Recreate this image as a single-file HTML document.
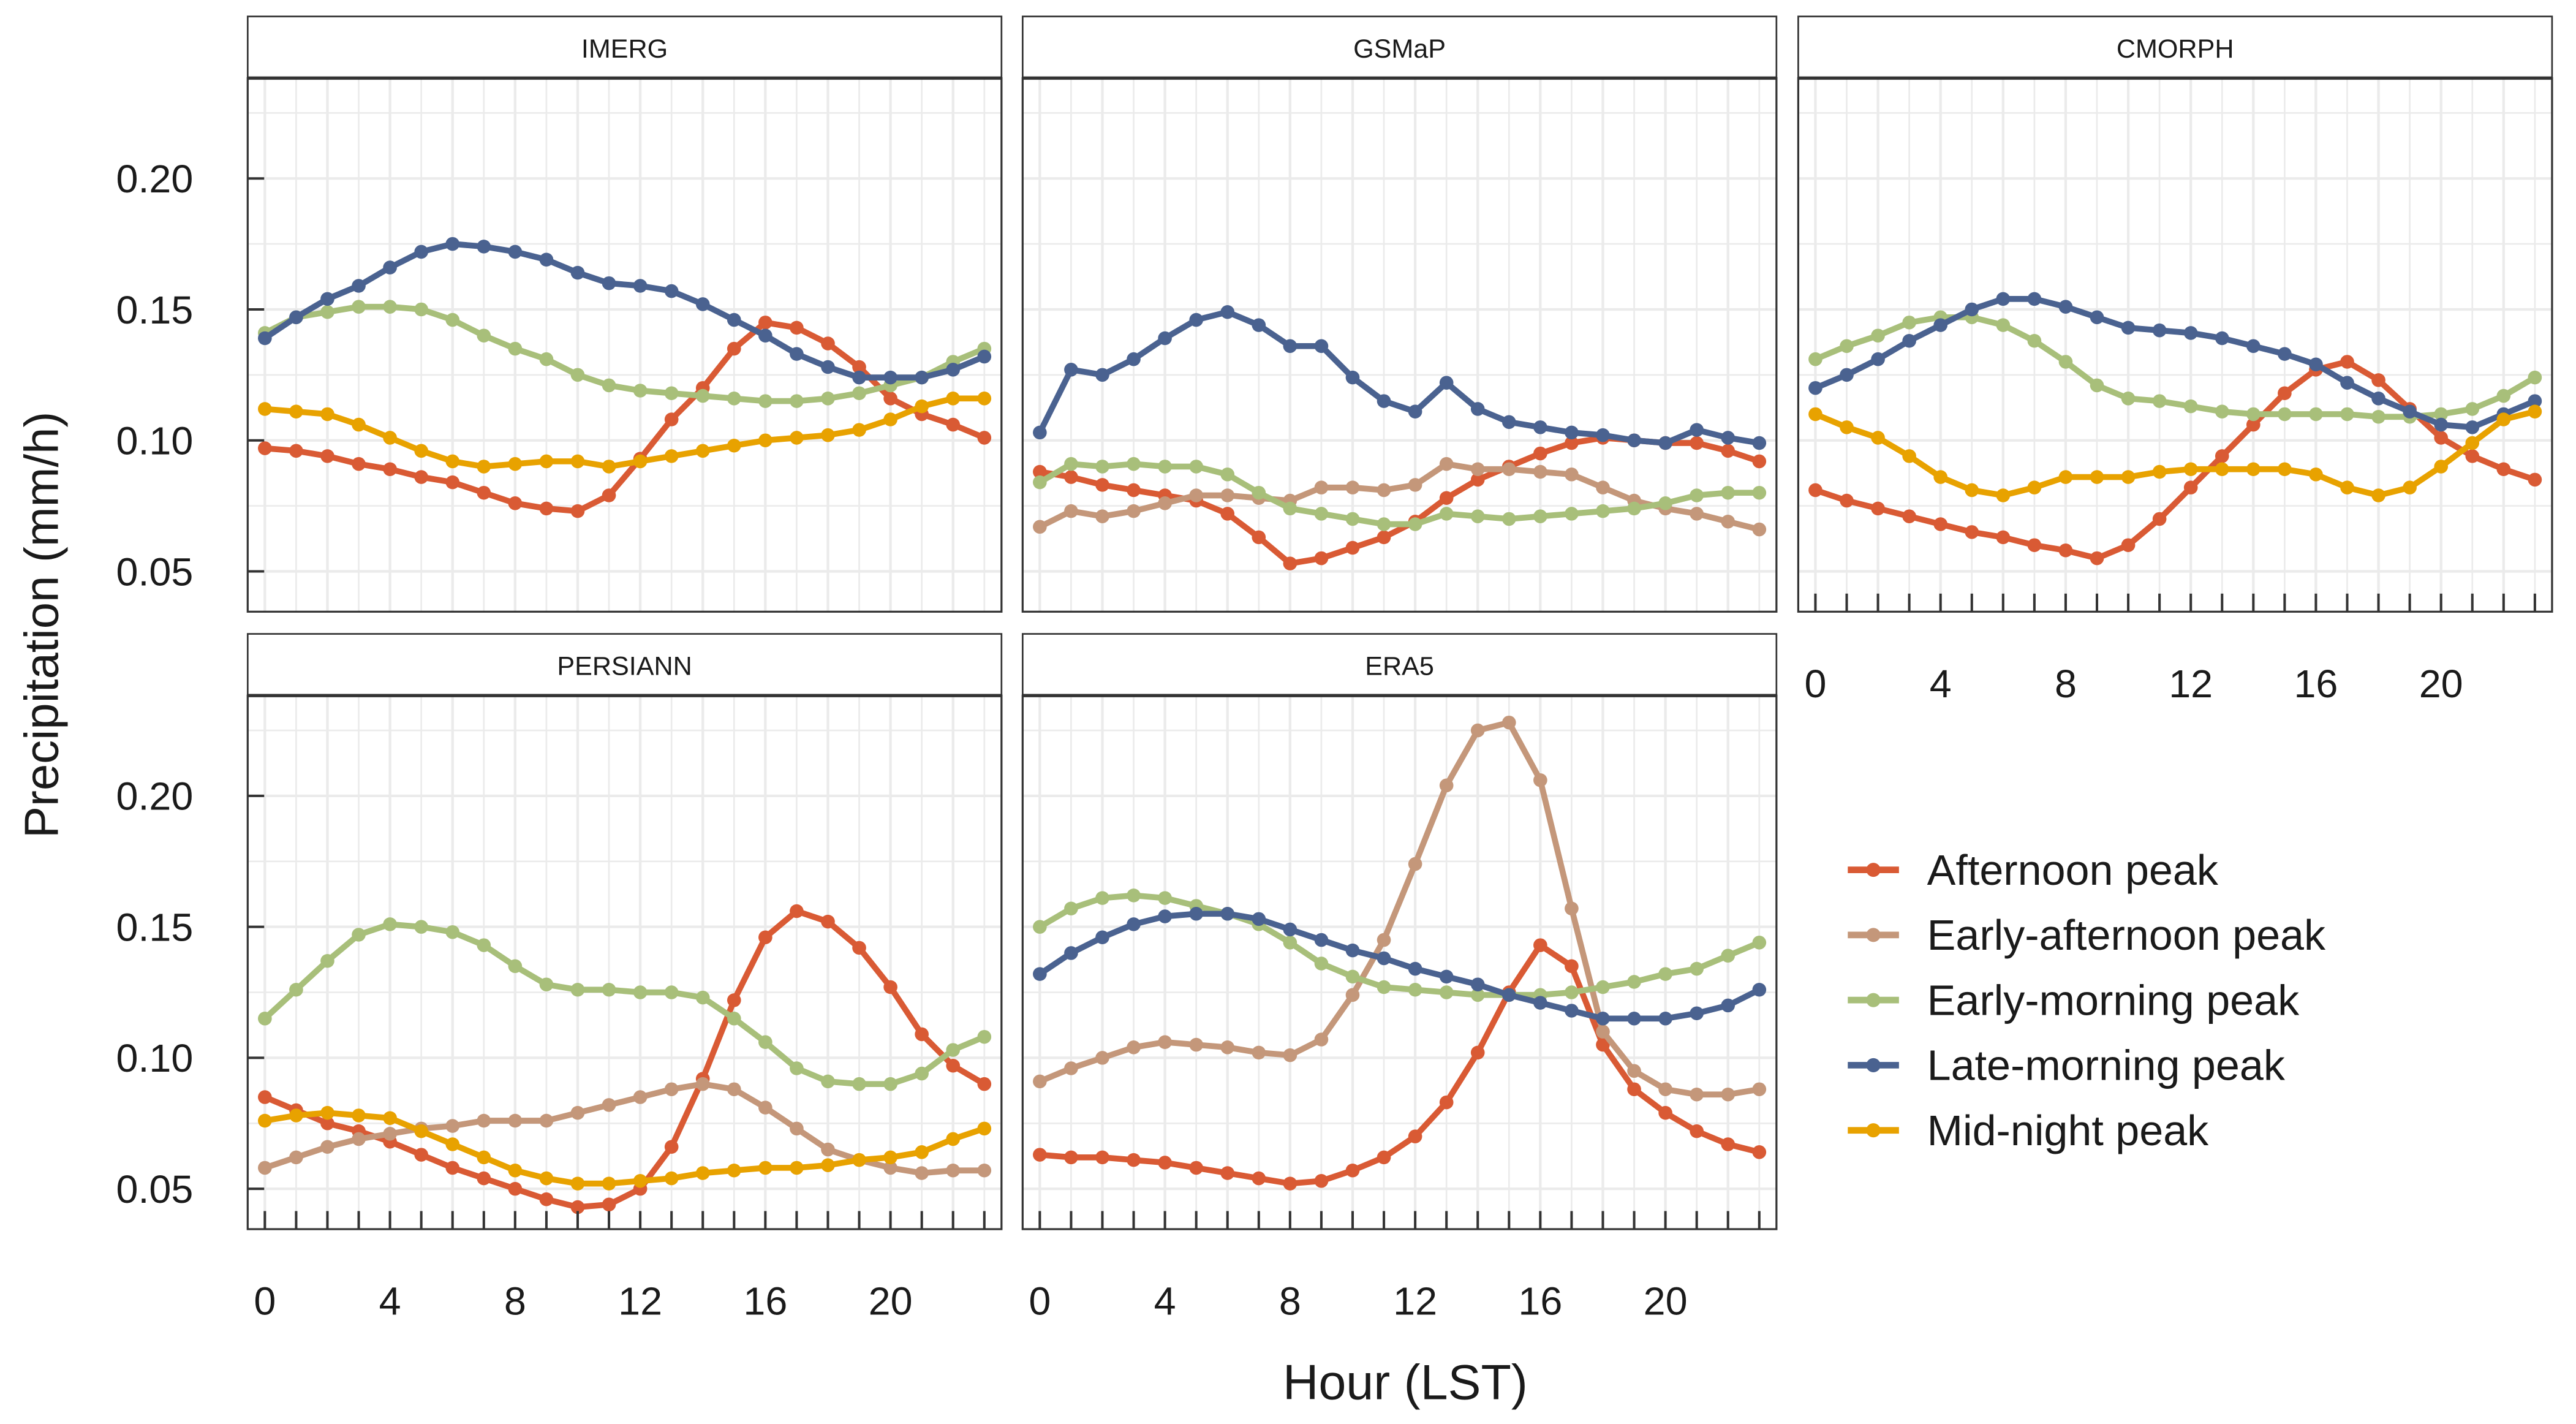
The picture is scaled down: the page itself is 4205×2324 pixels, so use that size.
<!DOCTYPE html>
<html><head><meta charset="utf-8"><style>
html,body{margin:0;padding:0;background:#fff;}
svg{display:block;font-family:"Liberation Sans",sans-serif;}
</style></head><body>
<svg id="chart" width="4205" height="2324" viewBox="0 0 1560 866" preserveAspectRatio="none" xmlns="http://www.w3.org/2000/svg"></svg>
<script>
const hours = Array.from({length:24},(_,i)=>i);
const seriesNames = ["Afternoon peak","Early-afternoon peak","Early-morning peak","Late-morning peak","Mid-night peak"];
const seriesColors = ["#d95a34","#c4977a","#a8bf7a","#4a6290","#e8a200"];
const panelNames = ["IMERG","GSMaP","CMORPH","PERSIANN","ERA5"];
const yTicks = [0.05,0.10,0.15,0.20];
const yTickLabels = ["0.05","0.10","0.15","0.20"];
const xTicks = [0,4,8,12,16,20];

const imergAfternoon=[0.097,0.096,0.094,0.091,0.089,0.086,0.084,0.080,0.076,0.074,0.073,0.079,0.093,0.108,0.120,0.135,0.145,0.143,0.137,0.128,0.116,0.110,0.106,0.101];
const imergEarlyAfternoon=null;
const imergEarlyMorning=[0.141,0.147,0.149,0.151,0.151,0.150,0.146,0.140,0.135,0.131,0.125,0.121,0.119,0.118,0.117,0.116,0.115,0.115,0.116,0.118,0.121,0.124,0.130,0.135];
const imergLateMorning=[0.139,0.147,0.154,0.159,0.166,0.172,0.175,0.174,0.172,0.169,0.164,0.160,0.159,0.157,0.152,0.146,0.140,0.133,0.128,0.124,0.124,0.124,0.127,0.132];
const imergMidNight=[0.112,0.111,0.110,0.106,0.101,0.096,0.092,0.090,0.091,0.092,0.092,0.090,0.092,0.094,0.096,0.098,0.100,0.101,0.102,0.104,0.108,0.113,0.116,0.116];

const gsmapAfternoon=[0.088,0.086,0.083,0.081,0.079,0.077,0.072,0.063,0.053,0.055,0.059,0.063,0.069,0.078,0.085,0.090,0.095,0.099,0.101,0.100,0.099,0.099,0.096,0.092];
const gsmapEarlyAfternoon=[0.067,0.073,0.071,0.073,0.076,0.079,0.079,0.078,0.077,0.082,0.082,0.081,0.083,0.091,0.089,0.089,0.088,0.087,0.082,0.077,0.074,0.072,0.069,0.066];
const gsmapEarlyMorning=[0.084,0.091,0.090,0.091,0.090,0.090,0.087,0.080,0.074,0.072,0.070,0.068,0.068,0.072,0.071,0.070,0.071,0.072,0.073,0.074,0.076,0.079,0.080,0.080];
const gsmapLateMorning=[0.103,0.127,0.125,0.131,0.139,0.146,0.149,0.144,0.136,0.136,0.124,0.115,0.111,0.122,0.112,0.107,0.105,0.103,0.102,0.100,0.099,0.104,0.101,0.099];
const gsmapMidNight=null;

const cmorphAfternoon=[0.081,0.077,0.074,0.071,0.068,0.065,0.063,0.060,0.058,0.055,0.060,0.070,0.082,0.094,0.106,0.118,0.127,0.130,0.123,0.112,0.101,0.094,0.089,0.085];
const cmorphEarlyAfternoon=null;
const cmorphEarlyMorning=[0.131,0.136,0.140,0.145,0.147,0.147,0.144,0.138,0.130,0.121,0.116,0.115,0.113,0.111,0.110,0.110,0.110,0.110,0.109,0.109,0.110,0.112,0.117,0.124];
const cmorphLateMorning=[0.120,0.125,0.131,0.138,0.144,0.150,0.154,0.154,0.151,0.147,0.143,0.142,0.141,0.139,0.136,0.133,0.129,0.122,0.116,0.111,0.106,0.105,0.110,0.115];
const cmorphMidNight=[0.110,0.105,0.101,0.094,0.086,0.081,0.079,0.082,0.086,0.086,0.086,0.088,0.089,0.089,0.089,0.089,0.087,0.082,0.079,0.082,0.090,0.099,0.108,0.111];

const persiannAfternoon=[0.085,0.080,0.075,0.072,0.068,0.063,0.058,0.054,0.050,0.046,0.043,0.044,0.050,0.066,0.092,0.122,0.146,0.156,0.152,0.142,0.127,0.109,0.097,0.090];
const persiannEarlyAfternoon=[0.058,0.062,0.066,0.069,0.071,0.073,0.074,0.076,0.076,0.076,0.079,0.082,0.085,0.088,0.090,0.088,0.081,0.073,0.065,0.061,0.058,0.056,0.057,0.057];
const persiannEarlyMorning=[0.115,0.126,0.137,0.147,0.151,0.150,0.148,0.143,0.135,0.128,0.126,0.126,0.125,0.125,0.123,0.115,0.106,0.096,0.091,0.090,0.090,0.094,0.103,0.108];
const persiannLateMorning=null;
const persiannMidNight=[0.076,0.078,0.079,0.078,0.077,0.072,0.067,0.062,0.057,0.054,0.052,0.052,0.053,0.054,0.056,0.057,0.058,0.058,0.059,0.061,0.062,0.064,0.069,0.073];

const era5Afternoon=[0.063,0.062,0.062,0.061,0.060,0.058,0.056,0.054,0.052,0.053,0.057,0.062,0.070,0.083,0.102,0.125,0.143,0.135,0.105,0.088,0.079,0.072,0.067,0.064];
const era5EarlyAfternoon=[0.091,0.096,0.100,0.104,0.106,0.105,0.104,0.102,0.101,0.107,0.124,0.145,0.174,0.204,0.225,0.228,0.206,0.157,0.110,0.095,0.088,0.086,0.086,0.088];
const era5EarlyMorning=[0.150,0.157,0.161,0.162,0.161,0.158,0.155,0.151,0.144,0.136,0.131,0.127,0.126,0.125,0.124,0.124,0.124,0.125,0.127,0.129,0.132,0.134,0.139,0.144];
const era5LateMorning=[0.132,0.140,0.146,0.151,0.154,0.155,0.155,0.153,0.149,0.145,0.141,0.138,0.134,0.131,0.128,0.124,0.121,0.118,0.115,0.115,0.115,0.117,0.120,0.126];
const era5MidNight=null;

const panelData=[
 [imergAfternoon,imergEarlyAfternoon,imergEarlyMorning,imergLateMorning,imergMidNight],
 [gsmapAfternoon,gsmapEarlyAfternoon,gsmapEarlyMorning,gsmapLateMorning,gsmapMidNight],
 [cmorphAfternoon,cmorphEarlyAfternoon,cmorphEarlyMorning,cmorphLateMorning,cmorphMidNight],
 [persiannAfternoon,persiannEarlyAfternoon,persiannEarlyMorning,persiannLateMorning,persiannMidNight],
 [era5Afternoon,era5EarlyAfternoon,era5EarlyMorning,era5LateMorning,era5MidNight]
];

const NS="http://www.w3.org/2000/svg";
const svg=document.getElementById('chart');
function mk(tag,attrs,parent){const e=document.createElementNS(NS,tag);for(const k in attrs)e.setAttribute(k,attrs[k]);(parent||svg).appendChild(e);return e;}

const panelX=[150,619.3,1089];
const rowTop=[10,385.5];
const PW=456.5, STRIP=37.5, PH=324.5;
const yMin=0.0346, yMax=0.0346+PH/1593;

panelNames.forEach((name,p)=>{
  const x0=panelX[p%3], top=rowTop[p<3?0:1], pt=top+STRIP, pb=pt+PH;
  const g=mk('g',{});
  
  
  const xs=h=>x0+10.4+h*(PW-20.8)/23;
  const ys=v=>pb-(v-yMin)/(yMax-yMin)*PH;
  const s=mk('rect',{x:x0,y:top,width:PW,height:STRIP,fill:'#fff',stroke:'#333','stroke-width':1},g);
  
  
  const st=mk('text',{x:x0+PW/2,y:top+25,'text-anchor':'middle','font-size':16,fill:'#1a1a1a'},g);
  st.textContent=name;
  
  
  for(let v=0.05;v<yMax;v+=0.025){mk('line',{x1:x0,x2:x0+PW,y1:ys(v),y2:ys(v),stroke:'#ebebeb','stroke-width':Math.abs((v*40)%2)<0.01||Math.abs((v*40)%2-2)<0.01?1.6:1},g);}
  hours.forEach(h=>mk('line',{x1:xs(h),x2:xs(h),y1:pt,y2:pb,stroke:'#ebebeb','stroke-width':h%2===0?1.6:1},g));
  panelData[p].forEach((arr,si)=>{
    if(!arr) return;
    const pts=arr.map((v,i)=>xs(hours[i])+','+ys(v)).join(' ');
    const l=mk('polyline',{points:pts,fill:'none',stroke:seriesColors[si],'stroke-width':3.6,'stroke-linejoin':'round'},g);
    
    
    arr.forEach((v,i)=>{
      const c=mk('circle',{cx:xs(hours[i]),cy:ys(v),r:4.2,fill:seriesColors[si]},g);
      
      
    });
  });
  mk('rect',{x:x0,y:pt,width:PW,height:PH,fill:'none',stroke:'#333','stroke-width':1.2},g);
  mk('line',{x1:x0,x2:x0+PW,y1:pt,y2:pt,stroke:'#333','stroke-width':2},g);
  if(p===0||p===3){
    yTicks.forEach((v,i)=>{
      mk('line',{x1:x0,x2:x0+10,y1:ys(v),y2:ys(v),stroke:'#333','stroke-width':1.5},g);
      const t=mk('text',{x:x0-33,y:ys(v)+8.5,'text-anchor':'end','font-size':24,fill:'#1a1a1a'},g);
      t.textContent=yTickLabels[i];
      
      
    });
  }
  if(p>=2){
    hours.forEach(h=>mk('line',{x1:xs(h),x2:xs(h),y1:pb-11,y2:pb,stroke:'#333','stroke-width':1.5},g));
    xTicks.forEach(h=>{
      const t=mk('text',{x:xs(h),y:pb+52,'text-anchor':'middle','font-size':24,fill:'#1a1a1a'},g);
      t.textContent=String(h);
      
      
    });
  }
});

const yt=mk('text',{x:0,y:0,transform:'translate(35,380) rotate(-90)','text-anchor':'middle','font-size':29,fill:'#1a1a1a'});
yt.textContent='Precipitation (mm/h)';


const xt=mk('text',{x:851,y:851,'text-anchor':'middle','font-size':30,fill:'#1a1a1a'});
xt.textContent='Hour (LST)';



seriesNames.forEach((n,i)=>{
  const y=529+i*39.6;
  const g=mk('g',{});
  
  
  mk('line',{x1:1119,x2:1150,y1:y,y2:y,stroke:seriesColors[i],'stroke-width':4},g);
  mk('circle',{cx:1134.5,cy:y,r:4.3,fill:seriesColors[i]},g);
  const t=mk('text',{x:1167,y:y+9,'font-size':26,fill:'#1a1a1a'},g);
  t.textContent=n;
});
</script>
</body></html>
